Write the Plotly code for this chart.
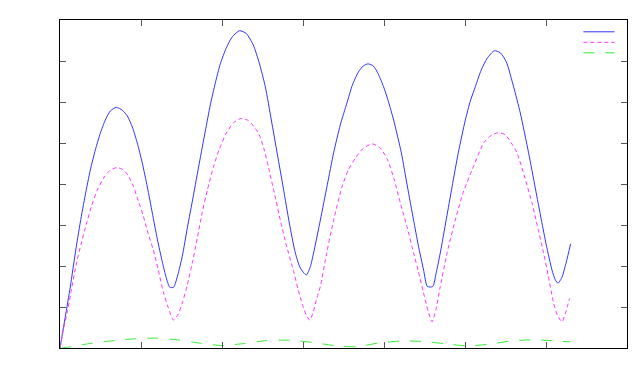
import plotly.graph_objects as go

blue_x = [0, 0.065, 0.127, 0.189, 0.251, 0.312, 0.374, 0.436, 0.498, 0.559, 0.621, 0.695,
          0.769, 0.831, 0.893, 0.954, 1.016, 1.078, 1.140, 1.201, 1.263, 1.312, 1.356, 1.402,
          1.454, 1.51, 1.572, 1.646, 1.72, 1.794, 1.856, 1.917, 1.979, 2.053, 2.127, 2.217,
          2.3, 2.386, 2.46, 2.535, 2.609, 2.683, 2.757, 2.831, 2.905, 2.967, 3.04,
          3.09, 3.131, 3.214, 3.3, 3.378, 3.46, 3.543, 3.609, 3.683, 3.744, 3.802,
          3.868, 3.93, 3.995, 4.053, 4.119, 4.214, 4.288, 4.365, 4.423, 4.489, 4.535, 4.602,
          4.646, 4.695, 4.77, 4.84, 4.917, 5.004, 5.065, 5.127, 5.2, 5.275, 5.362,
          5.436, 5.51, 5.6, 5.683, 5.785, 5.868, 5.943, 6.004, 6.074, 6.115, 6.148,
          6.198, 6.251, 6.304]
blue_y = [0, 0.76, 1.49, 2.32, 3.07, 3.73, 4.34, 4.83, 5.24, 5.56, 5.78, 5.87,
          5.80, 5.66, 5.39, 5.0, 4.51, 3.93, 3.29, 2.66, 2.10, 1.71, 1.48, 1.48,
          1.78, 2.24, 2.93, 3.71, 4.51, 5.29, 5.93, 6.46, 6.93, 7.32, 7.59, 7.74,
          7.67, 7.39, 6.95, 6.37, 5.56, 4.73, 3.90, 3.05, 2.32, 1.95, 1.78,
          1.98, 2.32, 3.12, 3.98, 4.76, 5.44, 5.98, 6.41, 6.73, 6.88, 6.93,
          6.88, 6.68, 6.37, 6.02, 5.56, 4.76, 3.95, 3.12, 2.51, 1.90, 1.50, 1.50,
          1.85, 2.32, 3.15, 3.93, 4.76, 5.56, 6.02, 6.37, 6.78, 7.07, 7.25,
          7.20, 6.98, 6.37, 5.73, 4.76, 3.90, 3.12, 2.51, 1.90, 1.66, 1.58,
          1.73, 2.10, 2.54]

mag_x = [0, 0.041, 0.09, 0.14, 0.201, 0.263, 0.325, 0.386, 0.46, 0.547, 0.621, 0.704,
         0.781, 0.843, 0.905, 0.967, 1.028, 1.09, 1.152, 1.214, 1.275, 1.337, 1.402,
         1.46, 1.51, 1.572, 1.633, 1.695, 1.757, 1.819, 1.893, 1.967, 2.053, 2.14, 2.237,
         2.324, 2.398, 2.46, 2.522, 2.575, 2.646, 2.72, 2.794, 2.88, 2.942, 2.991, 3.041, 3.084,
         3.127, 3.164, 3.214, 3.288, 3.378, 3.481, 3.559, 3.646, 3.733, 3.852,
         3.954, 4.044, 4.127, 4.201, 4.288, 4.365, 4.423, 4.485, 4.547, 4.593,
         4.64, 4.695, 4.781, 4.88, 4.979, 5.086, 5.23, 5.312, 5.407,
         5.498, 5.572, 5.642, 5.732, 5.827, 5.893, 5.970, 6.028, 6.094, 6.14, 6.198,
         6.244, 6.291]
mag_y = [0, 0.44, 0.88, 1.41, 2.05, 2.56, 3.02, 3.44, 3.85, 4.17, 4.34, 4.40,
         4.35, 4.20, 3.95, 3.59, 3.22, 2.78, 2.39, 1.90, 1.37, 0.98, 0.68,
         0.83, 1.10, 1.54, 2.07, 2.68, 3.32, 3.85, 4.41, 4.85, 5.24, 5.49, 5.60,
         5.55, 5.39, 5.20, 4.83, 4.39, 3.78, 3.12, 2.51, 1.90, 1.41, 1.07, 0.80, 0.68,
         0.88, 1.17, 1.50, 2.27, 3.12, 3.93, 4.34, 4.63, 4.85, 4.98,
         4.88, 4.59, 4.10, 3.54, 2.93, 2.32, 1.88, 1.37, 0.88, 0.64,
         0.93, 1.50, 2.34, 3.12, 3.80, 4.34, 5.0, 5.17, 5.25,
         5.20, 5.0, 4.76, 4.20, 3.54, 2.98, 2.32, 1.76, 1.10, 0.80, 0.64,
         0.88, 1.21]

green_x = [0, 0.065, 0.337, 0.621, 0.893, 1.177, 1.448, 1.72, 2.0, 2.275, 2.547, 2.83, 3.10, 3.386,
           3.658, 3.93, 4.214, 4.485, 4.77, 5.04, 5.325, 5.6, 5.87, 6.14, 6.3]
green_y = [0, 0.01, 0.10, 0.17, 0.22, 0.24, 0.20, 0.12, 0.06, 0.11, 0.18, 0.19, 0.14, 0.06,
           0.03, 0.12, 0.17, 0.16, 0.10, 0.05, 0.10, 0.18, 0.20, 0.17, 0.15]

colors = ["#3333ff", "#ff33ff", "#33ee33"]
dashes = ["solid", "4px,3px", "11px,11px"]
series = [(blue_x, blue_y), (mag_x, mag_y), (green_x, green_y)]

fig = go.Figure()
for (xs, ys), c, d in zip(series, colors, dashes):
    fig.add_trace(go.Scatter(x=xs, y=ys, mode="lines", showlegend=False,
                             line=dict(color=c, width=1, shape="spline", smoothing=0.6, dash=d)))

# legend key samples (unlabelled, as in the original)
shapes = []
for i, (c, d) in enumerate(zip(colors, dashes)):
    yk = 0.964 - i * 0.032
    shapes.append(dict(type="line", xref="paper", yref="paper", x0=0.923, x1=0.978, y0=yk, y1=yk,
                       line=dict(color=c, width=1, dash=d)))

axis_common = dict(showgrid=False, zeroline=False, showline=True, linecolor="#000000", linewidth=1,
                   mirror="ticks", ticks="inside", ticklen=6, tickcolor="#555555", tickwidth=1,
                   showticklabels=False, dtick=1)
fig.update_layout(
    width=630, height=376,
    margin=dict(l=52, r=11, t=12, b=36),
    paper_bgcolor="white", plot_bgcolor="white",
    xaxis=dict(range=[0, 7], **axis_common),
    yaxis=dict(range=[0, 8], **axis_common),
    showlegend=False,
    shapes=shapes,
)
fig.write_html("out.html")
